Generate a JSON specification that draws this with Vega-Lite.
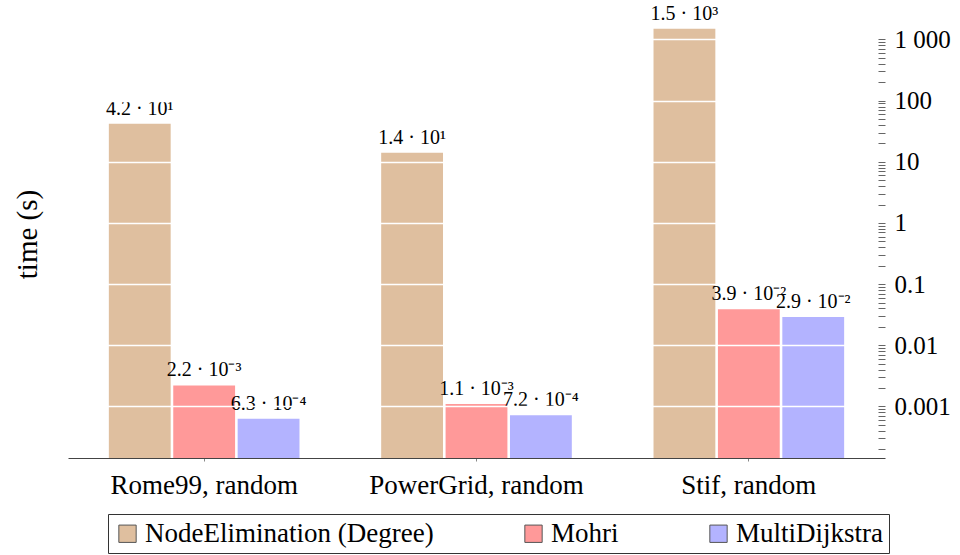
{
  "$schema": "https://vega.github.io/schema/vega-lite/v6.json",
  "width": 817,
  "height": 448,
  "autosize": "none",
  "padding": {"left": 68, "top": 10, "right": 75, "bottom": 97},
  "config": {
    "font": "Liberation Serif",
    "view": {"stroke": null}
  },
  "data": {
    "values": [
      {"dataset": "Rome99, random", "algo": "NodeElimination (Degree)", "time": 42, "label": "4.2 · 10¹"},
      {"dataset": "Rome99, random", "algo": "Mohri", "time": 0.0022, "label": "2.2 · 10⁻³"},
      {"dataset": "Rome99, random", "algo": "MultiDijkstra", "time": 0.00063, "label": "6.3 · 10⁻⁴"},
      {"dataset": "PowerGrid, random", "algo": "NodeElimination (Degree)", "time": 14, "label": "1.4 · 10¹"},
      {"dataset": "PowerGrid, random", "algo": "Mohri", "time": 0.0011, "label": "1.1 · 10⁻³"},
      {"dataset": "PowerGrid, random", "algo": "MultiDijkstra", "time": 0.00072, "label": "7.2 · 10⁻⁴"},
      {"dataset": "Stif, random", "algo": "NodeElimination (Degree)", "time": 1500, "label": "1.5 · 10³"},
      {"dataset": "Stif, random", "algo": "Mohri", "time": 0.039, "label": "3.9 · 10⁻²"},
      {"dataset": "Stif, random", "algo": "MultiDijkstra", "time": 0.029, "label": "2.9 · 10⁻²"}
    ]
  },
  "encoding": {
    "x": {
      "field": "dataset", "type": "nominal",
      "sort": ["Rome99, random", "PowerGrid, random", "Stif, random"],
      "scale": {"paddingInner": 0.3, "paddingOuter": 0.15},
      "axis": {
        "title": null, "labelAngle": 0, "labelFontSize": 27, "labelColor": "black",
        "labelLimit": 400, "labelPadding": 11, "tickSize": 3, "tickColor": "#888",
        "domainColor": "#444", "domainWidth": 1.2
      }
    },
    "xOffset": {
      "field": "algo", "type": "nominal",
      "sort": ["NodeElimination (Degree)", "Mohri", "MultiDijkstra"],
      "scale": {"paddingInner": 0.04, "paddingOuter": 0}
    },
    "y": {
      "field": "time", "type": "quantitative",
      "scale": {"type": "log", "domain": [0.0001435, 3034], "nice": false}
    }
  },
  "layer": [
    {
      "mark": {"type": "bar", "clip": false},
      "encoding": {
        "y2": {"datum": 0.0001435},
        "color": {
          "field": "algo", "type": "nominal",
          "sort": ["NodeElimination (Degree)", "Mohri", "MultiDijkstra"],
          "scale": {
            "domain": ["NodeElimination (Degree)", "Mohri", "MultiDijkstra"],
            "range": ["#dfbf9f", "#ff9999", "#b3b3ff"]
          },
          "legend": {
            "title": null, "orient": "none", "legendX": 40, "legendY": 504,
            "direction": "horizontal", "columns": 3, "columnPadding": 86,
            "symbolType": "square", "symbolSize": 300, "symbolStrokeColor": "#555",
            "symbolStrokeWidth": 1, "labelFontSize": 27, "labelColor": "black",
            "labelLimit": 500, "strokeColor": "#333", "padding": 6, "cornerRadius": 0
          }
        },
        "y": {
          "field": "time", "type": "quantitative",
          "axis": {
            "orient": "right", "title": null, "zindex": 1,
            "values": [0.0002, 0.0003, 0.0004, 0.0005, 0.0006, 0.0007, 0.0008, 0.0009,
                       0.001, 0.002, 0.003, 0.004, 0.005, 0.006, 0.007, 0.008, 0.009,
                       0.01, 0.02, 0.03, 0.04, 0.05, 0.06, 0.07, 0.08, 0.09,
                       0.1, 0.2, 0.3, 0.4, 0.5, 0.6, 0.7, 0.8, 0.9,
                       1, 2, 3, 4, 5, 6, 7, 8, 9,
                       10, 20, 30, 40, 50, 60, 70, 80, 90,
                       100, 200, 300, 400, 500, 600, 700, 800, 900, 1000],
            "domain": false,
            "tickSize": -7, "tickColor": "#666", "tickWidth": 1,
            "labelPadding": 16, "labelFontSize": 25, "labelColor": "black",
            "labelOverlap": false, "labelBound": false, "labelFlush": false,
            "labelExpr": "abs(log(datum.value)/LN10 - round(log(datum.value)/LN10)) < 0.001 ? (datum.value == 1000 ? '1 000' : format(datum.value, '~g')) : ''",
            "grid": true, "gridColor": "white", "gridWidth": 1.5,
            "gridOpacity": {"condition": {"test": "abs(log(datum.value)/LN10 - round(log(datum.value)/LN10)) < 0.001", "value": 1}, "value": 0}
          }
        }
      }
    },
    {
      "mark": {"type": "text", "baseline": "bottom", "dy": -5, "fontSize": 20, "color": "black"},
      "encoding": {
        "text": {"field": "label"},
        "y": {
          "field": "time", "type": "quantitative",
          "axis": {
            "orient": "left", "title": "time (s)", "titleFontSize": 29, "titleFontWeight": "normal",
            "titleColor": "black", "titlePadding": 26,
            "labels": false, "ticks": false, "domain": false, "grid": false
          }
        }
      }
    }
  ],
  "resolve": {"axis": {"y": "independent"}}
}
